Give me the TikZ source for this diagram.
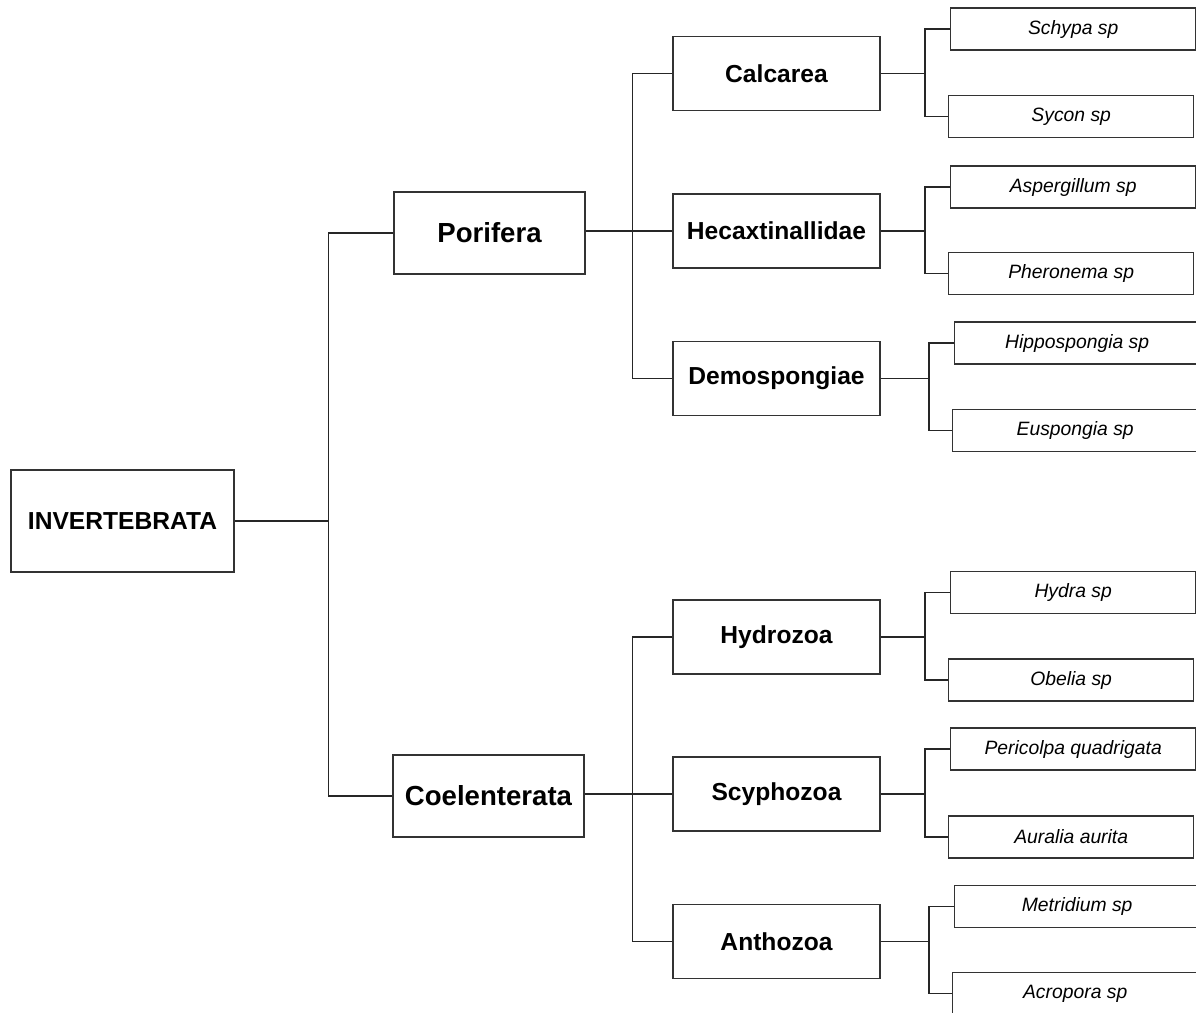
\documentclass[tikz,border=0pt]{standalone}
\usepackage{fontspec}
\setmainfont{Liberation Sans}
\tikzset{
  box/.style={draw=black!80, line width=0.8pt, inner sep=0pt, align=center, fill=white},
  rootbox/.style={box, minimum width=4.46cm, minimum height=2.04cm, font=\fontsize{14}{16}\selectfont\bfseries},
  phylumbox/.style={box, minimum width=3.82cm, minimum height=1.64cm, font=\fontsize{15.7}{18}\selectfont\bfseries},
  classbox/.style={box, minimum width=4.14cm, minimum height=1.48cm, font=\fontsize{14}{16}\selectfont\bfseries},
  speciesbox/.style={box, anchor=west, minimum width=4.9cm, minimum height=0.84cm, font=\fontsize{11}{13}\selectfont\itshape},
  link/.style={draw=black!85, line width=0.6pt},
}
\begin{document}
\begin{tikzpicture}[x=0.02cm, y=-0.02cm]
  \clip (0,0) rectangle (1196,1012);
  \fill[white] (0,0) rectangle (1196,1012);

  % Kingdom and phyla
  \node[rootbox] (inv) at (122.5,521) {INVERTEBRATA};
  \node[phylumbox] (por) at (489.5,233) {Porifera};
  \node[phylumbox] (coe) at (488.5,796) {Coelenterata};

  % Classes
  \node[classbox] (cal) at (776.5,73.5) {Calcarea};
  \node[classbox] (hex) at (776.5,231) {Hecaxtinallidae};
  \node[classbox] (dem) at (776.5,378.5) {Demospongiae};
  \node[classbox] (hyd) at (776.5,637) {Hydrozoa};
  \node[classbox] (scy) at (776.5,794) {Scyphozoa};
  \node[classbox] (ant) at (776.5,941.5) {Anthozoa};

  % Species
  \node[speciesbox] (schypa) at (950,29) {Schypa sp};
  \node[speciesbox] (sycon) at (948,116.5) {Sycon sp};
  \node[speciesbox] (asper) at (950,187) {Aspergillum sp};
  \node[speciesbox] (phero) at (948,273.5) {Pheronema sp};
  \node[speciesbox] (hippo) at (954,343) {Hippospongia sp};
  \node[speciesbox] (euspo) at (952,430.5) {Euspongia sp};
  \node[speciesbox] (hydra) at (950,592.5) {Hydra sp};
  \node[speciesbox] (obelia) at (948,680) {Obelia sp};
  \node[speciesbox] (peric) at (950,749) {Pericolpa quadrigata};
  \node[speciesbox] (aural) at (948,837) {Auralia aurita};
  \node[speciesbox] (metri) at (954,906.5) {Metridium sp};
  \node[speciesbox] (acrop) at (952,993.5) {Acropora sp};

  % Forks
  \draw[link] (por.west) -- ++(-65,0) coordinate (j0) |- (coe.west);
  \draw[link] (inv.east) -- (inv.east -| j0);

  \draw[link] (cal.west) -- ++(-40,0) coordinate (j1) |- (dem.west);
  \draw[link] (por.east |- hex.west) -- (hex.west);
  \draw[link] (hyd.west) -- ++(-40,0) coordinate (j2) |- (ant.west);
  \draw[link] (coe.east |- scy.west) -- (scy.west);

  \draw[link] (schypa.west) -- ++(-25,0) coordinate (k1) |- (sycon.west);
  \draw[link] (cal.east) -- (cal.east -| k1);
  \draw[link] (asper.west) -- ++(-25,0) coordinate (k2) |- (phero.west);
  \draw[link] (hex.east) -- (hex.east -| k2);
  \draw[link] (hippo.west) -- ++(-25,0) coordinate (k3) |- (euspo.west);
  \draw[link] (dem.east) -- (dem.east -| k3);
  \draw[link] (hydra.west) -- ++(-25,0) coordinate (k4) |- (obelia.west);
  \draw[link] (hyd.east) -- (hyd.east -| k4);
  \draw[link] (peric.west) -- ++(-25,0) coordinate (k5) |- (aural.west);
  \draw[link] (scy.east) -- (scy.east -| k5);
  \draw[link] (metri.west) -- ++(-25,0) coordinate (k6) |- (acrop.west);
  \draw[link] (ant.east) -- (ant.east -| k6);
\end{tikzpicture}
\end{document}
